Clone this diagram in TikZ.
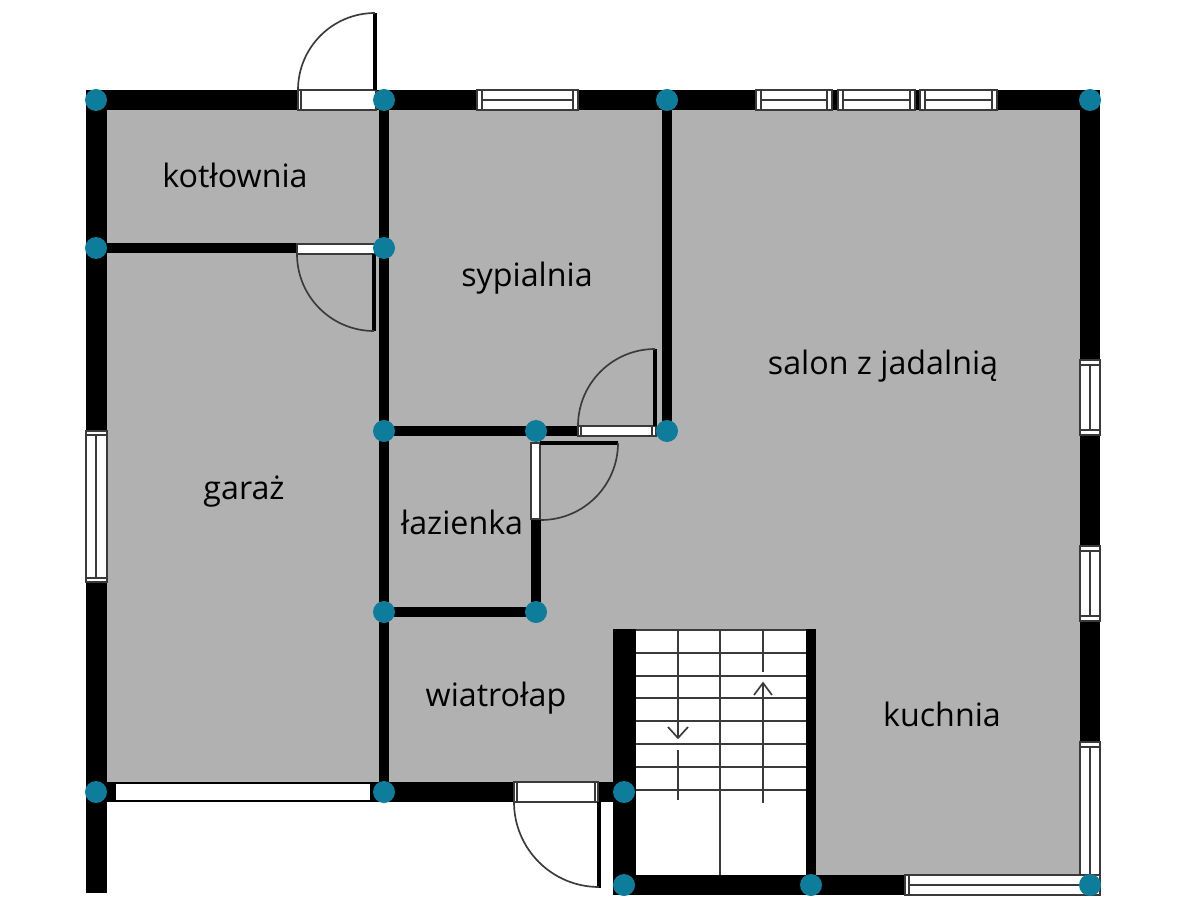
\documentclass[tikz,border=0pt]{standalone}
\usepackage{fontspec}
\setmainfont{Open Sans}
\definecolor{floorgray}{HTML}{B1B1B1}
\definecolor{dotteal}{HTML}{0E7C9B}
\definecolor{framegray}{HTML}{3A3A3A}
\tikzset{
  outerwall/.style={line width=0.6cm,black},
  innerwall/.style={line width=0.3cm,black},
  doorleaf/.style={line width=0.12cm,black},
  swing/.style={line width=0.05cm,framegray},
  frame/.style={draw=framegray,line width=0.06cm,fill=white},
  tread/.style={line width=0.05cm,framegray},
  dot/.style={circle,fill=dotteal,inner sep=0pt,minimum size=0.66cm},
  room/.style={font=\fontsize{27.5}{32}\selectfont,text=black,inner sep=0pt}
}
\begin{document}
\begin{tikzpicture}[x=0.03cm,y=-0.03cm]
    \useasboundingbox (0,0) rectangle (1200,900);
    % wall corners, in pixels of the plan
    \coordinate (TopLeft)    at (96,100);
    \coordinate (TopMid)     at (384,100);
    \coordinate (TopSalon)   at (667,100);
    \coordinate (TopRight)   at (1090,100);
    \coordinate (BoilerL)    at (96,248);
    \coordinate (BoilerR)    at (384,248);
    \coordinate (BedL)       at (384,431);
    \coordinate (BedM)       at (536,431);
    \coordinate (BedR)       at (667,431);
    \coordinate (BathL)      at (384,612);
    \coordinate (BathR)      at (536,612);
    \coordinate (GarageL)    at (96,792);
    \coordinate (GarageR)    at (384,792);
    \coordinate (StairTop)   at (624,792);
    \coordinate (StairLow)   at (624,885);
    \coordinate (StairRight) at (811,885);
    \coordinate (LowRight)   at (1090,885);

    % floor
    \fill[floorgray] (107,110) -| (1080,875) -| (816,629) -| (613,782) -| cycle;
    \fill[white] (636,629) rectangle (806,875);

    % outer walls
    \draw[outerwall] (86,100) -- (1100,100);
    \draw[line width=0.63cm] (TopLeft) ++(0.5,0) -- (96.5,893);
    \draw[outerwall] (TopRight) -- (1090,742);
    \draw[outerwall] (86,792) -- (StairTop);
    \draw[outerwall] (613,885) -- (905,885);
    \draw[line width=0.69cm] (624.5,629) -- (624.5,895);
    \draw[innerwall] (811,629) -- (StairRight);

    % inner walls
    \draw[innerwall] (TopMid) -- (GarageR);
    \draw[innerwall] (TopSalon) -- (BedR);
    \draw[innerwall] (BoilerL) -- (BoilerR);
    \draw[innerwall] (BedL) -- (BedR);
    \draw[innerwall] (BathL) -- (BathR);
    \draw[innerwall] (BathR) -- (536,519);

    % windows in the top wall
    \foreach \a/\b in {477/578,756/832,838/915,920/997}{
      \draw[frame] (\a,90) rectangle (\b,110);
      \draw[frame] (\a,90) rectangle (\a+5,110);
      \draw[frame] (\b-5,90) rectangle (\b,110);
      \draw[swing] (\a+5,100) -- (\b-5,100);
    }
    % windows in the right wall
    \foreach \a/\b in {360/435,546/621,742/885}{
      \draw[frame] (1080,\a) rectangle (1100,\b);
      \draw[frame] (1080,\a) rectangle (1100,\a+5);
      \draw[frame] (1080,\b-5) rectangle (1100,\b);
      \draw[swing] (1090,\a+5) -- (1090,\b-5);
    }
    % window at the bottom right
    \draw[frame] (905,875) rectangle (1100,895);
    \draw[frame] (905,875) rectangle (909,895);
    \draw[swing] (909,885) -- (1090,885);
    % window of the garage, left
    \draw[frame] (86,431) rectangle (107,582);
    \draw[frame] (86,431) rectangle (107,435);
    \draw[frame] (86,578) rectangle (107,582);
    \draw[swing] (96,435) -- (96,578);
    % garage gate
    \fill[black] (107,782) rectangle (379,802);
    \fill[white] (116,784) rectangle (370,800);

    % doors
    \draw[frame] (298,90) rectangle (376,110);
    \draw[frame] (298,90) rectangle (301,110);
    \draw[doorleaf] (375,90) -- (375,13);
    \draw[swing] (298,90) arc[start angle=180,end angle=270,radius=77];

    \draw[frame] (297,244) rectangle (376,254);
    \draw[doorleaf] (374,254) -- (374,331);
    \draw[swing] (297,254) arc[start angle=180,end angle=90,radius=77];

    \draw[frame] (578,426) rectangle (656,436);
    \draw[frame] (578,426) rectangle (581,436);
    \draw[frame] (652,426) rectangle (656,436);
    \draw[doorleaf] (655,426) -- (655,349);
    \draw[swing] (578,426) arc[start angle=180,end angle=270,radius=77];

    \draw[frame] (531,443) rectangle (540,519);
    \draw[doorleaf] (540,443) -- (618,443);
    \draw[swing] (618,443) arc[start angle=0,end angle=90,radius=77];

    \draw[frame] (514,782) rectangle (598,802);
    \draw[frame] (514,782) rectangle (517,802);
    \draw[frame] (595,782) rectangle (598,802);
    \draw[doorleaf] (599,802) -- (599,888);
    \draw[swing] (514,802) arc[start angle=180,end angle=90,radius=85];

    % stairs
    \foreach \y in {630,652.7,675.7,698,721,744,767,790}{
      \draw[tread] (636,\y) -- (806,\y);
    }
    \draw[tread] (720,630) -- (720,875);
    \draw[tread] (678,630) -- (678,738);
    \draw[tread] (668,727) -- (678,738) -- (688,727);
    \draw[tread] (678,750) -- (678,800);
    \draw[tread] (763,630) -- (763,672);
    \draw[tread] (754,695) -- (763,683) -- (772,695);
    \draw[tread] (763,683) -- (763,803);

    % dots on the corners
    \foreach \p in {TopLeft,TopMid,TopSalon,TopRight,BoilerL,BoilerR,BedL,BedM,BedR,
      BathL,BathR,GarageL,GarageR,StairTop,StairLow,StairRight,LowRight}{
      \node[dot] (dot\p) at (\p) {};
    }

    % rooms
    \node[room] (kotlownia) at (235,175) {kotłownia};
    \node[room] (sypialnia) at (527,278) {sypialnia};
    \node[room] (salon)     at (883,366) {salon z jadalnią};
    \node[room] (garaz)     at (244,492) {garaż};
    \node[room] (lazienka)  at (462,522) {łazienka};
    \node[room] (wiatrolap) at (496,698) {wiatrołap};
    \node[room] (kuchnia)   at (942,714) {kuchnia};
\end{tikzpicture}
\end{document}
